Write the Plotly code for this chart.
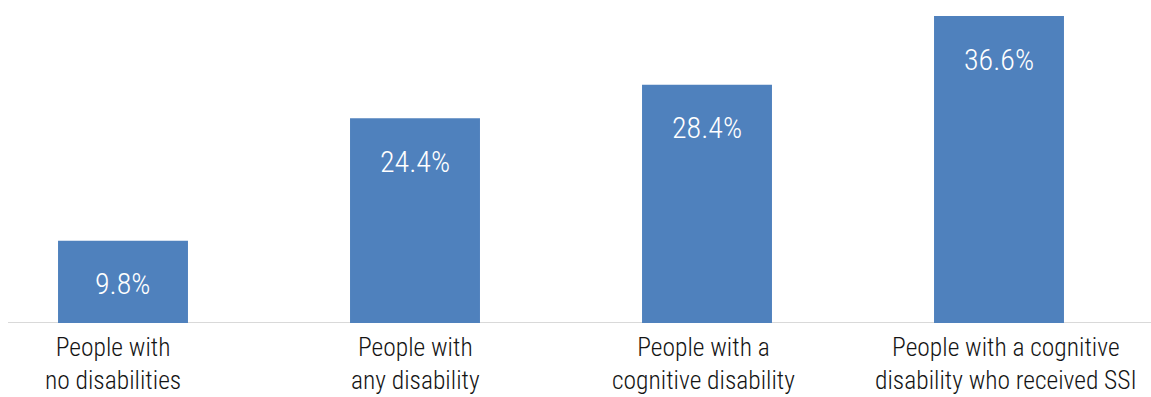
import plotly.graph_objects as go

categories = ["People with<br>no disabilities", "People with<br>any disability",
              "People with a<br>cognitive disability",
              "People with a cognitive<br>disability who received SSI"]
values = [9.8, 24.4, 28.4, 36.6]
labels = ["9.8%", "24.4%", "28.4%", "36.6%"]

xs = list(range(len(values)))
W, H = 1151, 397
FONT = "Roboto Condensed, Roboto, sans-serif"
label_nudge = [-10, 0, -4, 7]  # small horizontal offsets of category labels (px)

fig = go.Figure()
fig.add_trace(go.Bar(x=xs, y=values, marker=dict(color="#4f81bd", line=dict(width=0)),
                     width=0.445, hoverinfo="skip"))
for x, v, t in zip(xs, values, labels):
    fig.add_annotation(x=x, y=v, text=t, showarrow=False, yanchor="middle",
                       yshift=-43, font=dict(family=FONT, size=30, weight=300, color="white"))
for x, c, dx in zip(xs, categories, label_nudge):
    fig.add_annotation(x=x, y=0, text=c, showarrow=False, yanchor="top",
                       yshift=-8, xshift=dx, borderpad=0,
                       font=dict(family=FONT, size=25.5, weight=300, color="#141414"))

fig.add_shape(type="line", xref="paper", yref="y", x0=8 / W, x1=1, y0=0, y1=0,
              line=dict(color="#d9d9d9", width=2), layer="below")

fig.update_layout(
    width=W, height=H, margin=dict(l=0, r=0, t=0, b=74),
    plot_bgcolor="white", paper_bgcolor="white", showlegend=False,
    xaxis=dict(range=[-123 / 292, (W - 123) / 292], showticklabels=False,
               showgrid=False, zeroline=False, showline=False, ticks=""),
    yaxis=dict(range=[0, 36.6 * 323 / 307], visible=False),
)
fig.write_html("out.html")
